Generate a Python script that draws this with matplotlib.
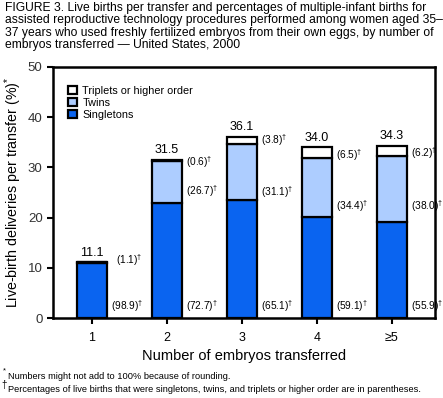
import numpy as np
import matplotlib
matplotlib.use("Agg")
import matplotlib.pyplot as plt

plt.rcParams['font.family'] = ['Liberation Sans', 'DejaVu Sans']
plt.rcParams['mathtext.fontset'] = 'custom'
plt.rcParams['mathtext.rm'] = 'Liberation Sans'
plt.rcParams['mathtext.it'] = 'Liberation Sans'

# data
categories = ["1", "2", "3", "4", "\u22655"]
totals = [11.1, 31.5, 36.1, 34.0, 34.3]
singletons = [11.0, 22.9, 23.5, 20.1, 19.2]
twins = [0.1, 8.4, 11.2, 11.7, 13.0]
triplets = [0.0, 0.2, 1.4, 2.2, 2.1]
pct_single = ["98.9", "72.7", "65.1", "59.1", "55.9"]
pct_twins = ["", "26.7", "31.1", "34.4", "38.0"]
pct_trip = ["1.1", "0.6", "3.8", "6.5", "6.2"]

# label heights (placement only)
y_single_lbl = [2.4, 2.4, 2.4, 2.4, 2.4]
y_twin_lbl = [None, 25.3, 25.1, 22.3, 22.3]
y_trip_lbl = [11.5, 31.1, 35.5, 32.5, 32.9]

c_single = "#0A64F0"
c_twin = "#ADCDFF"
c_trip = "white"

fig = plt.figure(figsize=(4.43, 3.98), dpi=100)
ax = fig.add_axes([0.1196, 0.201, 0.862, 0.631])

x = np.arange(1, len(categories) + 1)
w = 0.4
lw = 1.6
ax.bar(x, singletons, w, color=c_single, edgecolor="black", linewidth=lw, label="Singletons")
ax.bar(x, twins, w, bottom=singletons, color=c_twin, edgecolor="black", linewidth=lw, label="Twins")
bot = np.array(singletons) + np.array(twins)
ax.bar(x, triplets, w, bottom=bot, color=c_trip, edgecolor="black", linewidth=lw,
       label="Triplets or higher order")

fs = 7.3
for i in range(len(x)):
    ax.text(x[i], totals[i] + 0.7, f"{totals[i]:.1f}", ha="center", va="bottom", fontsize=9)
    xl = x[i] + w / 2 + 0.05
    ax.text(xl, y_single_lbl[i], f"({pct_single[i]})$^{{†}}$", fontsize=fs, va="center", ha="left")
    if pct_twins[i]:
        ax.text(xl, y_twin_lbl[i], f"({pct_twins[i]})$^{{†}}$", fontsize=fs, va="center", ha="left")
    xt = xl + (0.07 if i == 0 else 0)
    ax.text(xt, y_trip_lbl[i], f"({pct_trip[i]})$^{{†}}$", fontsize=fs, va="center", ha="left")

ax.set_xlim(0.48, 5.573)
ax.set_ylim(0, 50)
ax.set_yticks([0, 10, 20, 30, 40, 50])
ax.set_xticks(x)
ax.set_xticklabels(categories, fontsize=9)
ax.tick_params(axis="y", labelsize=9.5, width=1.5, length=4, direction="out", colors="black", labelcolor="#333333")
ax.tick_params(axis="x", width=1.5, length=4, direction="out", pad=6)
for s in ax.spines.values():
    s.set_linewidth(1.8)
ax.set_ylabel("Live-birth deliveries per transfer (%)$^{*}$", fontsize=10.3, labelpad=3)
ax.set_xlabel("Number of embryos transferred", fontsize=10.5, labelpad=4)

h, l = ax.get_legend_handles_labels()
ax.legend(h[::-1], l[::-1], loc="upper left", bbox_to_anchor=(0.02, 0.955), frameon=False,
          fontsize=7.8, handlelength=0.8, handleheight=0.8, handletextpad=0.5,
          labelspacing=0.2, borderpad=0.2)

title = ("FIGURE 3. Live births per transfer and percentages of multiple-infant births for\n"
         "assisted reproductive technology procedures performed among women aged 35\u2013\n"
         "37 years who used freshly fertilized embryos from their own eggs, by number of\n"
         "embryos transferred \u2014 United States, 2000")
fig.text(0.012, 0.995, title, ha="left", va="top", fontsize=8.7, linespacing=1.05)

# footnotes
fig.text(0.006, 0.068, "*", fontsize=5.5, va="center")
fig.text(0.018, 0.054, "Numbers might not add to 100% because of rounding.", fontsize=6.7, va="center")
fig.text(0.004, 0.032, "\u2020", fontsize=7, va="center")
fig.text(0.018, 0.022, "Percentages of live births that were singletons, twins, and triplets or higher order are in parentheses.",
         fontsize=6.7, va="center")

fig.savefig("out.png", dpi=100)
